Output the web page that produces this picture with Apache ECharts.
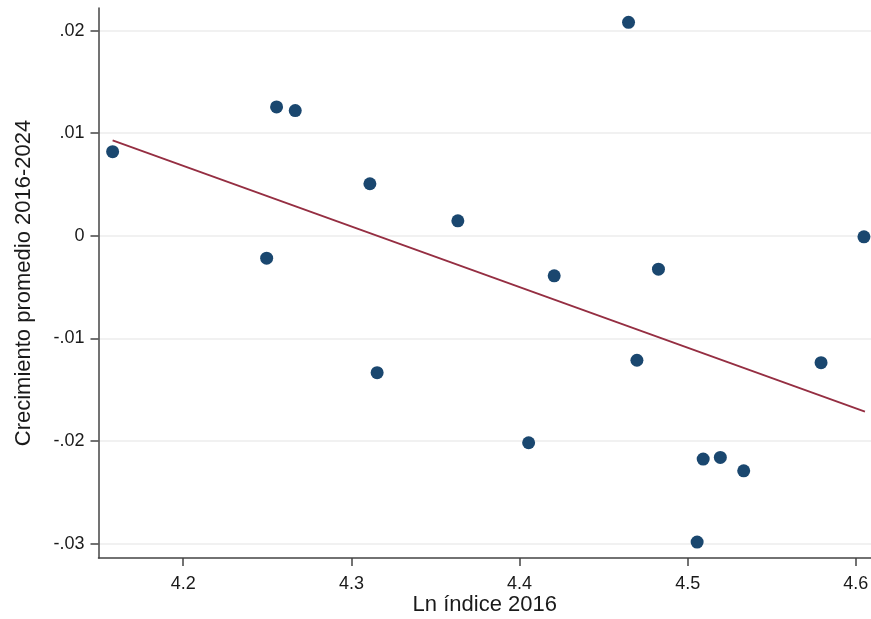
<!DOCTYPE html>
<html>
<head>
<meta charset="utf-8">
<script src="https://cdn.jsdelivr.net/npm/echarts@6/dist/echarts.min.js"></script>
<style>
  html, body { margin: 0; padding: 0; background: #fff; }
  #chart { width: 871px; height: 619px; }
</style>
</head>
<body>
<div id="chart"></div>
<script>
// ln of the 2016 index vs average growth 2016-2024
const lnIndex = [4.158, 4.2555, 4.2666, 4.2496, 4.311, 4.3153, 4.3633, 4.4054, 4.4206,
  4.4648, 4.4698, 4.4826, 4.5056, 4.5092, 4.5194, 4.5333, 4.5793, 4.6048];
const growth = [0.0082, 0.01256, 0.0122, -0.00218, 0.00507, -0.01334, 0.00146, -0.02017, -0.0039,
  0.0208, -0.01213, -0.00325, -0.02985, -0.02176, -0.0216, -0.0229, -0.01236, -0.0001];

// fitted line, end points
const fitX = [4.158, 4.6054];
const fitY = [0.0093, -0.01714];

const xTicks = [4.2, 4.3, 4.4, 4.5, 4.6];
const yTicks = [-0.03, -0.02, -0.01, 0, 0.01, 0.02];

const font = "Liberation Sans, Arial, sans-serif";
const chart = echarts.init(document.getElementById("chart"));

chart.setOption({
  animation: false,
  grid: { left: 98.5, right: 0, top: 8, bottom: 61, containLabel: false, outerBoundsMode: "none" },
  xAxis: {
    type: "value",
    min: 4.1496,
    max: 4.609,
    name: "Ln índice 2016",
    nameLocation: "middle",
    nameGap: 36,
    nameMoveOverlap: false,
    nameTextStyle: { fontFamily: font, fontSize: 22, color: "#1a1a1a" },
    axisLine: { show: true, onZero: false, lineStyle: { color: "#444", width: 1.5 } },
    axisTick: { show: true, length: 8, customValues: xTicks, lineStyle: { color: "#444", width: 1.5 } },
    axisLabel: {
      customValues: xTicks,
      margin: 17,
      fontFamily: font,
      fontSize: 18,
      color: "#1a1a1a",
      formatter: v => v.toFixed(1),
    },
    splitLine: { show: false },
  },
  yAxis: {
    type: "value",
    min: -0.0314,
    max: 0.0222,
    name: "Crecimiento promedio 2016-2024",
    nameLocation: "middle",
    nameGap: 64,
    nameMoveOverlap: false,
    nameTextStyle: { fontFamily: font, fontSize: 22, color: "#1a1a1a" },
    axisLine: { show: true, onZero: false, lineStyle: { color: "#444", width: 1.5 } },
    axisTick: { show: true, length: 8, customValues: yTicks, lineStyle: { color: "#444", width: 1.5 } },
    axisLabel: {
      customValues: yTicks,
      margin: 14,
      fontFamily: font,
      fontSize: 18,
      color: "#1a1a1a",
      formatter: v => (Math.abs(v) < 1e-9 ? "0" : v.toFixed(2).replace("0.", ".")),
    },
    splitLine: { show: true, lineStyle: { color: "#ececec", width: 1.5 } },
  },
  series: [
    {
      type: "scatter",
      data: lnIndex.map((x, i) => [x, growth[i]]),
      symbolSize: 13,
      itemStyle: { color: "#1a476f", opacity: 1 },
      z: 3,
    },
    {
      type: "line",
      data: fitX.map((x, i) => [x, fitY[i]]),
      symbol: "none",
      lineStyle: { color: "#952e42", width: 1.8 },
      z: 2,
    },
  ],
});
</script>
</body>
</html>
